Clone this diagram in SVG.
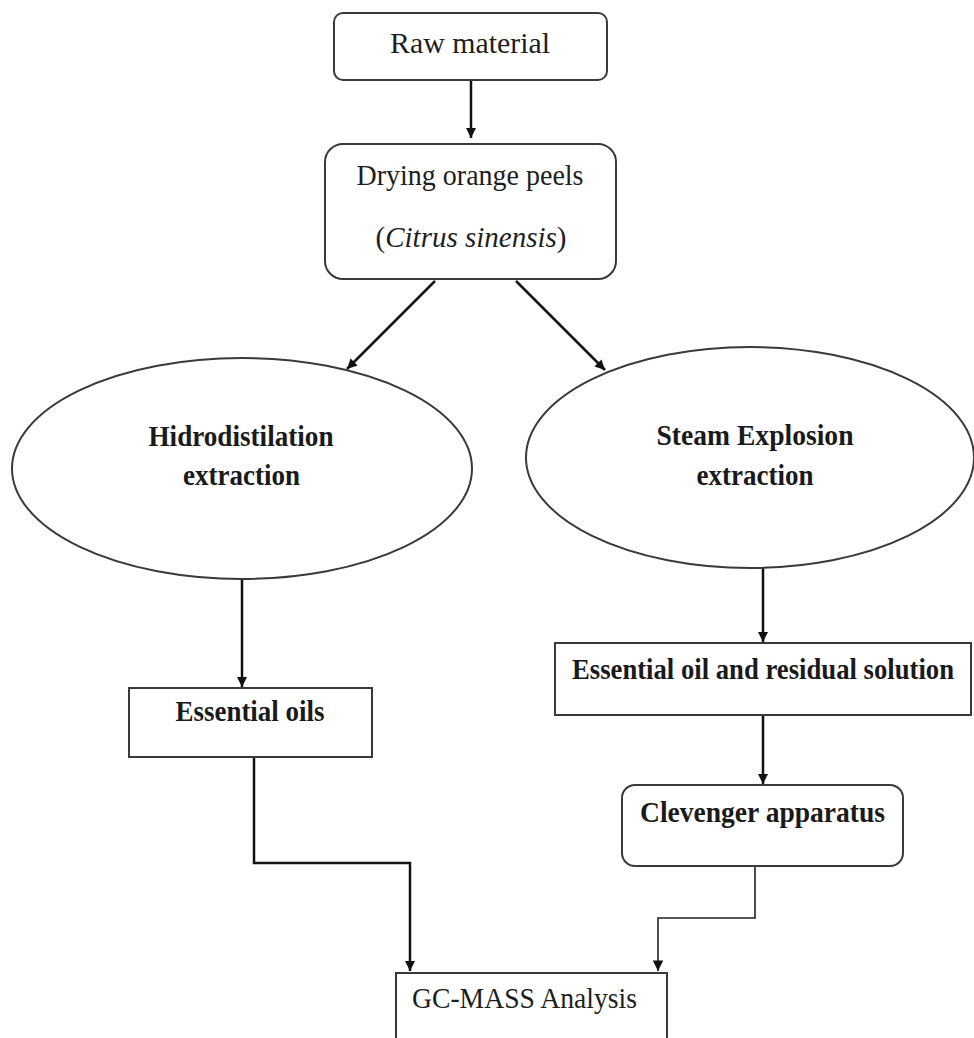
<svg xmlns="http://www.w3.org/2000/svg" width="974" height="1038" viewBox="0 0 974 1038">
<style>
.box{fill:#fff;stroke:#3a3a3a;stroke-width:2}
.reg{font-family:"Liberation Serif","Times New Roman",serif;font-size:29px;fill:#1e1e1e}
.bold{font-family:"Liberation Serif","Times New Roman",serif;font-size:29px;font-weight:bold;fill:#1a1a1a}
.arr{fill:none;stroke:#111;stroke-width:2.5}
.thin{fill:none;stroke:#222;stroke-width:1.6}
</style>
<defs>
<marker id="ah" viewBox="0 0 10 10" refX="10" refY="5" markerWidth="4.4" markerHeight="4" markerUnits="strokeWidth" orient="auto">
<path d="M0,0 L10,5 L0,10 Z" fill="#111"/>
</marker>
<marker id="ah2" viewBox="0 0 10 10" refX="10" refY="5" markerWidth="7" markerHeight="6.5" markerUnits="strokeWidth" orient="auto">
<path d="M0,0 L10,5 L0,10 Z" fill="#111"/>
</marker>
</defs>
<rect width="974" height="1038" fill="#fff"/>
<g id="connectors">
<line class="arr" x1="471" y1="80" x2="471" y2="138" marker-end="url(#ah)"/>
<line class="arr" x1="435" y1="281" x2="347" y2="369" marker-end="url(#ah)"/>
<line class="arr" x1="516" y1="281" x2="605" y2="370" marker-end="url(#ah)"/>
<line class="arr" x1="242" y1="579" x2="242" y2="687" marker-end="url(#ah)"/>
<line class="arr" x1="763" y1="568" x2="763" y2="642" marker-end="url(#ah)"/>
<line class="arr" x1="763" y1="715" x2="763" y2="784" marker-end="url(#ah)"/>
<polyline class="arr" points="254,757 254,863 410,863 410,971" marker-end="url(#ah)"/>
<polyline class="thin" points="755,866 755,918 658,918 658,971" marker-end="url(#ah2)"/>
</g>
<g id="raw">
<rect class="box" x="334" y="13" width="273" height="67" rx="9"/>
<text class="reg" x="470" y="53" text-anchor="middle" textLength="160" lengthAdjust="spacingAndGlyphs">Raw material</text>
</g>
<g id="drying">
<rect class="box" x="325" y="144" width="291" height="135" rx="18"/>
<text class="reg" x="470" y="185" text-anchor="middle" textLength="227" lengthAdjust="spacingAndGlyphs">Drying orange peels</text>
<text class="reg" x="471" y="247" text-anchor="middle" font-size="27">(<tspan font-style="italic">Citrus sinensis</tspan>)</text>
</g>
<g id="hidro">
<ellipse class="box" cx="242" cy="468.5" rx="230" ry="110.5"/>
<text class="bold" x="241" y="446" text-anchor="middle" textLength="185" lengthAdjust="spacingAndGlyphs">Hidrodistilation</text>
<text class="bold" x="241.5" y="485" text-anchor="middle" textLength="117" lengthAdjust="spacingAndGlyphs">extraction</text>
</g>
<g id="steam">
<ellipse class="box" cx="750" cy="457.5" rx="224" ry="110.5"/>
<text class="bold" x="755" y="445" text-anchor="middle" textLength="197" lengthAdjust="spacingAndGlyphs">Steam Explosion</text>
<text class="bold" x="755" y="485" text-anchor="middle" textLength="117" lengthAdjust="spacingAndGlyphs">extraction</text>
</g>
<g id="oils">
<rect class="box" x="129" y="688" width="243" height="69"/>
<text class="bold" x="250" y="721" text-anchor="middle" textLength="149" lengthAdjust="spacingAndGlyphs">Essential oils</text>
</g>
<g id="residual">
<rect class="box" x="555" y="643" width="416" height="72"/>
<text class="bold" x="763" y="679" text-anchor="middle" font-size="26" textLength="382" lengthAdjust="spacingAndGlyphs">Essential oil and residual solution</text>
</g>
<g id="clevenger">
<rect class="box" x="622" y="785" width="281" height="81" rx="13"/>
<text class="bold" x="762.5" y="822" text-anchor="middle" textLength="245" lengthAdjust="spacingAndGlyphs">Clevenger apparatus</text>
</g>
<g id="gcmass">
<rect class="box" x="396" y="973" width="271" height="90"/>
<text class="reg" x="412" y="1008" textLength="225" lengthAdjust="spacingAndGlyphs">GC-MASS Analysis</text>
</g>
</svg>
